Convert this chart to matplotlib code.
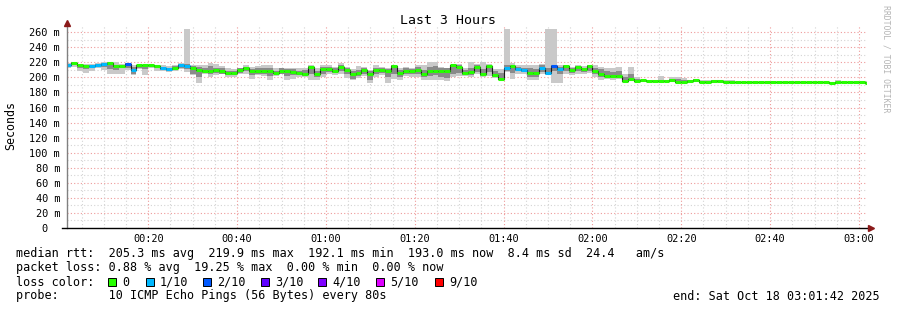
import numpy as np
import matplotlib
matplotlib.use("Agg")
import matplotlib.pyplot as plt
from matplotlib.patches import Rectangle

W, H = 897, 310
STEP_MIN = 80 / 60  # one rrd step = 80 s

# per-step values (ms), step k starts at k*80 s after midnight
MEDIAN = [
    217, 219.5, 216.5, 215.5, 215, 217, 218, 219.5, 215.5, 215.5,
    218, 210, 216, 216, 216, 215, 212.5, 211.5, 213, 217,
    215, 213, 210, 209, 209, 210, 208, 206, 205.5, 210,
    212, 208, 208.5, 209, 208, 205.5, 208.5, 208, 207, 205.5,
    205, 214, 204.5, 211, 211, 209, 213.5, 209.5, 204, 205.5,
    209.5, 204, 210, 210, 208.5, 215, 205.5, 208.5, 208.5, 210.5,
    204, 208, 209, 209, 209, 216, 214, 206, 207.5, 214,
    205, 215, 203, 198, 213, 215.5, 211, 210, 205.5, 205.5,
    213, 205.5, 214.5, 211.5, 215, 209.5, 213.5, 211, 215.5, 208.5,
    205, 202, 201.5, 202, 195.5, 197.5, 195.5, 196, 195.5, 195.5,
    195.5, 195, 196, 193.5, 193.5, 195, 197, 194, 194, 195,
    195, 194, 194] + [193.3] * 16 + [192, 193.3] + [193.3] * 4 + [193]

LOSS = [
    1, 0, 0, 0, 1, 1, 1, 0, 0, 0,
    2, 1, 0, 0, 0, 0, 1, 1, 0, 1,
    1, 0, 0, 0, 0, 0, 0, 0, 0, 0,
    0, 0, 0, 0, 0, 0, 0, 0, 0, 0,
    0, 0, 0, 0, 0, 0, 0, 0, 0, 0,
    0, 0, 0, 0, 0, 0, 0, 0, 0, 0,
    0, 0, 0, 0, 0, 0, 0, 0, 0, 0,
    0, 0, 0, 0, 1, 0, 1, 1, 0, 0,
    1, 1, 2, 1, 0, 0, 0, 0, 0, 0,
    0, 0, 0, 0, 0, 0, 0, 0, 0, 0,
    0, 0, 0, 0, 0, 0, 0, 0, 0, 0,
    0, 0, 0] + [0] * 16 + [0, 0] + [0] * 4 + [0]

SMOKE_LO = [
    213, 214, 209, 206, 209, 212, 210, 205, 205, 205,
    210, 203, 211, 203, 212, 209, 209, 207, 209, 211,
    207, 203, 193, 204, 200, 203, 204, 200, 201, 204,
    205, 198, 203, 202, 196, 202, 204, 196, 198, 201,
    201, 196, 196, 200, 204, 203, 205, 199, 196, 199,
    202, 193, 200, 203, 193, 198, 197, 202, 201, 200,
    196, 196, 197, 196, 195, 200, 202, 202, 200, 204,
    200, 202, 199, 196, 207, 198, 205, 205, 196, 196,
    204, 203, 193, 193, 205, 203, 205, 204, 206, 200,
    196, 198, 197, 198, 194, 196, 194, 194, 194, 194,
    194, 194, 194, 192, 192, 193, 194, 193, 193, 193,
    193, 193, 193] + [193] * 16 + [191.5, 193] + [193] * 4 + [192.8]

SMOKE_HI = [
    219, 221, 218, 218, 218, 219, 220, 221, 220, 218,
    219, 217, 217, 217, 218, 216, 216, 215, 216, 219,
    264, 216, 216, 216, 219, 218, 215, 212, 211, 213,
    216, 214, 215, 216, 216, 213, 213, 213, 213, 212,
    213, 216, 212, 216, 216, 214, 219, 214, 211, 215,
    214, 210, 216, 214, 213, 217, 213, 214, 213, 216,
    216, 220, 220, 214, 213, 217, 218, 213, 220, 218,
    220, 218, 211, 211, 264, 219, 217, 216, 216, 216,
    218, 264, 264, 216, 217, 214, 216, 215, 217, 217,
    214, 213, 212, 214, 204, 214, 200, 198, 197, 197,
    202, 197, 200, 200, 199, 196, 198, 196, 196, 196,
    197, 196, 196] + [193.6] * 16 + [193, 197] + [193.6] * 4 + [195.5]

CORE_LO = [
    215, 216, 212, 211, 212, 214, 214, 211, 210, 212,
    213, 205, 213, 211, 214, 212, 210, 209, 211, 213,
    211, 205, 201, 206, 204, 206, 205, 203, 203, 206,
    208, 203, 205, 205, 202, 204, 205, 202, 203, 203,
    202, 204, 200, 205, 207, 206, 208, 204, 198, 202,
    205, 197, 204, 206, 200, 205, 201, 204, 204, 205,
    200, 202, 203, 200, 199, 205, 206, 203, 203, 207,
    202, 207, 200, 197, 209, 206, 208, 207, 200, 201,
    207, 204, 208, 205, 209, 206, 208, 207, 209, 204,
    200, 200, 199, 199, 195, 197, 195, 195, 195, 195,
    195, 194.5, 195, 193, 193, 194, 195, 193.5, 193.5, 194,
    194, 193.5, 193.5] + [193.1] * 16 + [191.8, 193.1] + [193.1] * 4 + [193]

CORE_HI = [
    218, 220, 217, 217, 217, 218, 219, 220, 217, 217,
    219, 214, 217, 217, 217, 216, 214, 213, 215, 218,
    218, 215, 214, 213, 215, 213, 212, 209, 208, 212,
    214, 211, 212, 213, 212, 209, 212, 211, 211, 209,
    210, 215, 208, 214, 214, 212, 216, 212, 208, 210,
    212, 208, 213, 213, 211, 216, 210, 212, 211, 214,
    210, 214, 215, 212, 212, 216, 216, 210, 212, 216,
    211, 217, 208, 206, 216, 217, 214, 213, 213, 211,
    216, 212, 217, 214, 216, 212, 215, 213, 216, 213,
    211, 208, 207, 208, 200, 205, 198, 197, 197, 196,
    197, 196, 198, 198, 197, 196, 198, 195.5, 195, 196,
    196, 195.5, 195.5] + [193.5] * 16 + [192.5, 194] + [193.5] * 4 + [194]

Y_TICKS = list(range(0, 261, 20))
Y_LABELS = ["0  "] + [f"{v} m" for v in Y_TICKS[1:]]
X_TICKS = list(range(20, 181, 20))
X_LABELS = ["00:20", "00:40", "01:00", "01:20", "01:40", "02:00", "02:20", "02:40", "03:00"]

LOSS_LEVELS = ["0", "1/10", "2/10", "3/10", "4/10", "5/10", "9/10"]
LOSS_COLORS = ["#26ff00", "#00b8ff", "#0059ff", "#5e00ff", "#7e00ff", "#dd00ff", "#ff0000"]

MONO = "DejaVu Sans Mono"
plt.rcParams["font.family"] = MONO


def px(x, y):
    """image pixel -> figure fraction"""
    return x / W, 1 - y / H


fig = plt.figure(figsize=(W / 100, H / 100), dpi=100)
fig.patch.set_facecolor("white")
ax = fig.add_axes([67 / W, 82 / H, 799.5 / W, 203.3 / H])
ax.set_xlim(1.7, 181.7)
ax.set_ylim(0, 270)
for s in ax.spines.values():
    s.set_visible(False)

# grid: minor grey, major red, both dotted
for v in range(10, 270, 10):
    major = v % 20 == 0
    ax.axhline(v, color="#ee9a9a" if major else "#d4d4d4", lw=0.8,
               linestyle=(0, (1, 2)), zorder=0)
for m in range(5, 182, 5):
    major = m % 20 == 0
    ax.axvline(m, color="#ee9a9a" if major else "#d4d4d4", lw=0.8,
               linestyle=(0, (1, 2)), zorder=0)

t = np.arange(1, len(MEDIAN) + 1) * STEP_MIN
med = np.array(MEDIAN, dtype=float)
lo, hi = np.array(SMOKE_LO), np.array(SMOKE_HI)
clo, chi = np.array(CORE_LO), np.array(CORE_HI)

# smoke
ax.bar(t, hi - lo, bottom=lo, width=STEP_MIN, align="edge",
       color="#c9c9c9", linewidth=0, zorder=2)
ax.bar(t, chi - clo, bottom=clo, width=STEP_MIN, align="edge",
       color="#8a8a8a", linewidth=0, zorder=3)

# median: thin dark step underneath, loss-coloured segments on top
ax.step(np.append(t, t[-1] + STEP_MIN), np.append(med, med[-1]), where="post",
        color="#1a1a1a", lw=0.8, zorder=4)
ax.hlines(med, t, t + STEP_MIN, colors=[LOSS_COLORS[l] for l in LOSS],
          lw=2.2, zorder=5, capstyle="butt")

# axes lines with arrows
ax.plot([0, 0], [0, 1], transform=ax.transAxes, color="#808080", lw=1,
        clip_on=False, zorder=6)
ax.plot([-0.006, 1.002], [0, 0], transform=ax.transAxes, color="black", lw=1,
        clip_on=False, zorder=6)
ax.plot(0, 1.01, marker="^", color="#8b1a1a", ms=4.5, transform=ax.transAxes,
        clip_on=False, zorder=7)
ax.plot(1.006, 0, marker=">", color="#8b1a1a", ms=4.5, transform=ax.transAxes,
        clip_on=False, zorder=7)

ax.set_yticks(Y_TICKS, Y_LABELS, fontsize=7.4, family=MONO)
ax.set_xticks(X_TICKS, X_LABELS, fontsize=7.4, family=MONO)
ax.tick_params(axis="y", length=0, pad=5)
ax.tick_params(axis="x", length=0, pad=4)

fig.text(*px(448, 20), "Last 3 Hours", fontsize=9.5, ha="center", va="center")
fig.text(*px(11, 126), "Seconds", fontsize=8.4, rotation=90, ha="center", va="center")
fig.text(*px(886, 59), "RRDTOOL / TOBI OETIKER", fontsize=5.9, rotation=270,
         ha="center", va="center", color="#b4b4b4")

fs = 8.45
fig.text(*px(16, 254), "median rtt:  205.3 ms avg  219.9 ms max  192.1 ms min  "
         "193.0 ms now  8.4 ms sd  24.4   am/s", fontsize=fs, va="center")
fig.text(*px(16, 268), "packet loss: 0.88 % avg  19.25 % max  0.00 % min  0.00 % now",
         fontsize=fs, va="center")
fig.text(*px(16, 282), "loss color:", fontsize=fs, va="center")
box_x = [108, 146, 203, 261, 318, 376, 435]
for bx, lab, col in zip(box_x, LOSS_LEVELS, LOSS_COLORS):
    fig.add_artist(Rectangle(px(bx, 286), 8 / W, 8 / H, transform=fig.transFigure,
                             facecolor=col, edgecolor="black", lw=0.7))
    fig.text(*px(bx + 14, 282), lab, fontsize=fs, va="center")
fig.text(*px(16, 296), "probe:       10 ICMP Echo Pings (56 Bytes) every 80s",
         fontsize=fs, va="center")
fig.text(*px(880, 296), "end: Sat Oct 18 03:01:42 2025", fontsize=fs,
         ha="right", va="center")

fig.savefig("out.png", dpi=100)
